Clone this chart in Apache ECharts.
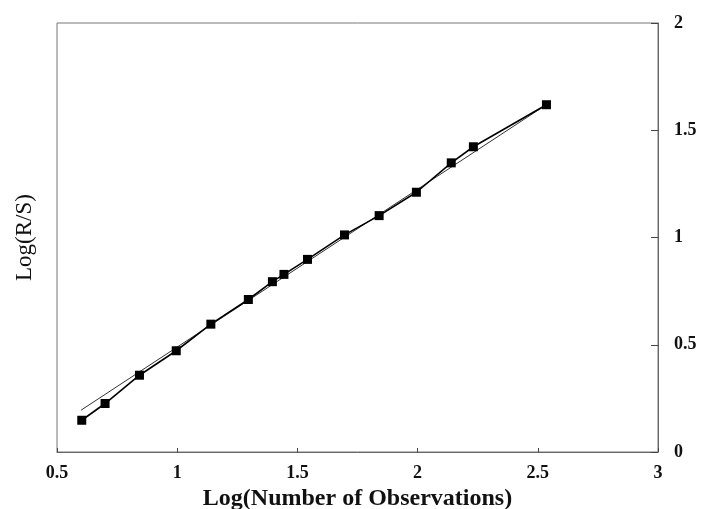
<!DOCTYPE html>
<html>
<head>
<meta charset="utf-8">
<script src="https://cdn.jsdelivr.net/npm/echarts@6/dist/echarts.min.js"></script>
<style>html,body{margin:0;padding:0;background:#fff;}#c{width:705px;height:509px;}</style>
</head>
<body>
<div id="c"></div>
<script>
// Data
const logN = [0.603, 0.700, 0.843, 0.996, 1.140, 1.296, 1.396, 1.444, 1.542, 1.696, 1.840, 1.995, 2.140, 2.232, 2.536];
const logRS = [0.148, 0.226, 0.358, 0.472, 0.596, 0.711, 0.794, 0.828, 0.898, 1.012, 1.102, 1.211, 1.348, 1.423, 1.619];
const fitX = [0.60, 2.53];
const fitY = [0.195, 1.615];
const xTicks = [0.5, 3, 0.5]; // min, max, interval
const yTicks = [0, 2, 0.5];

const points = logN.map((x, i) => [x, logRS[i]]);
const fit = fitX.map((x, i) => [x, fitY[i]]);

const font = '"Liberation Serif", "DejaVu Serif", serif';
const chart = echarts.init(document.getElementById('c'), null, {renderer: 'canvas'});
chart.setOption({
  animation: false,
  backgroundColor: '#fff',
  grid: {left: 57, right: 47, top: 23, bottom: 57, show: true, borderColor: '#777', borderWidth: 1,
         containLabel: false, outerBoundsMode: 'none'},
  xAxis: [{
    type: 'value', min: xTicks[0], max: xTicks[1], interval: xTicks[2],
    axisLine: {show: true, lineStyle: {color: '#666', width: 1}},
    axisTick: {show: true, inside: true, length: 4, lineStyle: {color: '#444'}},
    splitLine: {show: false},
    axisLabel: {color: '#111', fontFamily: font, fontSize: 18, fontWeight: 'bold', margin: 12},
    name: 'Log(Number of Observations)', nameLocation: 'middle', nameGap: 31,
    nameTextStyle: {color: '#111', fontFamily: font, fontSize: 24, fontWeight: 'bold'}
  }],
  yAxis: [{
    type: 'value', position: 'right', min: yTicks[0], max: yTicks[1], interval: yTicks[2],
    axisLine: {show: true, lineStyle: {color: '#666', width: 1}},
    axisTick: {show: true, inside: true, length: 7, lineStyle: {color: '#444'}},
    splitLine: {show: false},
    axisLabel: {color: '#111', fontFamily: font, fontSize: 18, fontWeight: 'bold', margin: 16}
  }, {
    type: 'value', position: 'left', min: yTicks[0], max: yTicks[1], interval: yTicks[2],
    axisLine: {show: false}, axisTick: {show: false}, axisLabel: {show: false}, splitLine: {show: false},
    name: 'Log(R/S)', nameLocation: 'middle', nameGap: 21, nameRotate: 90,
    nameTextStyle: {color: '#111', fontFamily: font, fontSize: 23}
  }],
  series: [{
    type: 'line', data: fit, yAxisIndex: 0, symbol: 'none',
    lineStyle: {color: '#333', width: 1}, z: 2
  }, {
    type: 'line', data: points, yAxisIndex: 0, symbol: 'rect', symbolSize: 9,
    itemStyle: {color: '#000'}, lineStyle: {color: '#000', width: 1.6}, z: 3
  }]
});
</script>
</body>
</html>
